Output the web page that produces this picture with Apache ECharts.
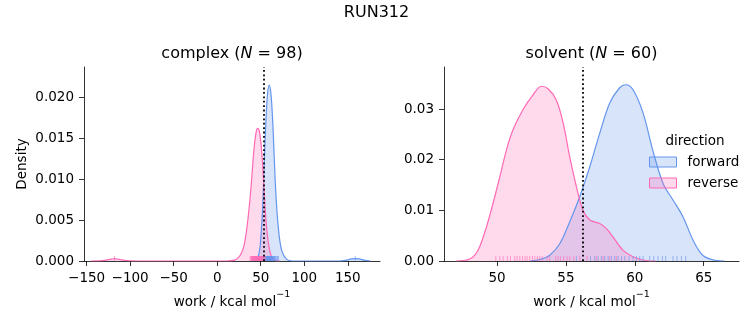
<!DOCTYPE html>
<html><head><meta charset="utf-8">
<script src="https://cdn.jsdelivr.net/npm/echarts@6/dist/echarts.min.js"></script>
<style>html,body{margin:0;padding:0;background:#fff}#c{width:753px;height:325px}</style>
</head><body><div id="c"></div>
<script>
const FONT = 'DejaVu Sans';
const colorForward = '#6495ED';
const colorReverse = '#FF69B4';

// axis ranges and ticks
const complexXRange = [-153, 187];
const complexYRange = [0, 0.0237];
const solventXRange = [46.15, 67.56];
const solventYRange = [0, 0.0383];
const complexXTicks = [-150, -100, -50, 0, 50, 100, 150];
const complexYTicks = [0, 0.005, 0.010, 0.015, 0.020];
const solventXTicks = [50, 55, 60, 65];
const solventYTicks = [0, 0.01, 0.02, 0.03];
const meanWork = [53.8, 56.22];

// KDE curves (work, density)
const complexForwardKde = [[40,0],[45,0.0002],[47.8,0.0008],[49.9,0.0025],[52.2,0.0066],[54,0.0119],[56,0.0172],[57.9,0.0205],[59.8,0.0215],[61.7,0.0205],[63.7,0.0172],[65.5,0.0127],[67.4,0.0082],[70.1,0.0042],[74,0.0013],[79.8,0.0002],[86,0],[140,0],[148,0.0001],[154,0.00025],[158.5,0.0003],[163,0.00025],[169,0.0001],[176,0]];
const complexReverseKde = [[-145,0],[-135,0.00002],[-128,0.0001],[-122,0.00022],[-118,0.00028],[-114,0.00022],[-108,0.0001],[-100,0.00002],[-90,0],[10,0],[20,0.0001],[25,0.0005],[28,0.001],[31,0.002],[33.8,0.0038],[36.8,0.0066],[39.5,0.0099],[42.2,0.0136],[44.5,0.0156],[46.4,0.0162],[48.5,0.0158],[51,0.0135],[53.7,0.0091],[56,0.005],[59,0.0021],[62.5,0.0005],[66,0.0001],[72,0]];
const solventForwardKde = [[52.4,0],[53.1,0.0003],[53.8,0.0011],[54.55,0.0034],[55.27,0.0077],[56.0,0.0127],[56.73,0.0186],[57.45,0.0252],[58.18,0.0312],[58.9,0.0342],[59.34,0.0348],[59.87,0.0338],[60.6,0.0292],[61.3,0.0219],[62.05,0.0153],[62.78,0.0120],[63.5,0.0087],[64.23,0.0041],[64.95,0.0011],[65.9,0.0001],[66.5,0]];
const solventReverseKde = [[47.0,0],[47.6,0.0001],[48.02,0.0004],[48.4,0.0012],[48.74,0.0028],[49.23,0.0067],[49.71,0.0114],[50.2,0.0166],[50.68,0.0219],[51.16,0.0259],[51.89,0.0299],[52.61,0.0328],[53.22,0.0345],[53.7,0.034],[54.3,0.0318],[54.8,0.0272],[55.27,0.0206],[55.76,0.0147],[56.24,0.0100],[56.73,0.0081],[57.45,0.0074],[57.94,0.0064],[58.4,0.0048],[59.15,0.0021],[59.9,0.0008],[60.8,0.0001],[61.5,0]];

// rug samples
const complexForwardRug = [52.5,53.3,54.0,54.6,55.2,55.6,56.0,56.4,56.8,57.2,57.5,57.8,58.1,58.4,58.7,59.0,59.3,59.6,59.8,60.1,60.4,60.7,61.0,61.3,61.6,62.0,62.3,62.7,63.0,63.4,63.8,64.2,64.7,65.2,65.8,66.5,67.2,68.3,69.5,70.2,158.5];
const complexReverseRug = [37.8,38.6,39.5,39.9,40.2,40.6,41.0,41.4,41.8,42.1,42.5,42.8,43.1,43.5,43.8,44.1,44.4,44.7,45.0,45.3,45.6,45.9,46.2,46.5,46.8,47.0,47.3,47.6,47.9,48.2,48.5,48.9,49.2,49.5,49.9,50.2,50.6,51.0,51.4,51.8,52.3,52.9,53.5,54.2,55.0,-118];
const solventForwardRug = [55.76,56.78,57.09,57.33,57.57,57.82,58.06,58.3,58.54,58.78,59.03,59.27,59.58,59.87,60.12,60.36,60.6,61.08,61.37,61.68,62.0,62.24,62.77,63.06,63.38,63.69];
const solventReverseRug = [49.91,50.2,50.44,50.75,50.97,51.28,51.45,51.65,51.84,52.03,52.18,52.37,52.57,52.74,52.93,53.1,53.29,53.63,53.82,54.26,54.43,54.6,54.84,55.08,55.28,55.57,56.0,56.53,57.21,57.7,58.18,58.66];

const minus = v => (v < 0 ? '\u2212' + Math.abs(v) : String(v));
const axisLineStyle = { color: '#000', width: 0.8 };
const labelStyle = { color: '#000', fontFamily: FONT, fontSize: 13.5 };

function xAx(gi, range, ticks) {
  return {
    type: 'value', gridIndex: gi, min: range[0], max: range[1],
    splitLine: { show: false },
    axisLine: { onZero: false, lineStyle: axisLineStyle },
    axisTick: { customValues: ticks, length: 5, lineStyle: axisLineStyle },
    axisLabel: Object.assign({ customValues: ticks, margin: 10, formatter: minus }, labelStyle),
    name: '{a|work / kcal mol}{s|\u22121}', nameLocation: 'middle', nameGap: 29,
    nameTextStyle: Object.assign({
      rich: {
        a: { fontFamily: FONT, fontSize: 13.5, color: '#000', padding: [5, 0, 0, 0] },
        s: { fontFamily: FONT, fontSize: 9.5, color: '#000', verticalAlign: 'top' }
      }
    }, labelStyle)
  };
}
function yAx(gi, range, ticks, dec, name) {
  return {
    type: 'value', gridIndex: gi, min: range[0], max: range[1],
    splitLine: { show: false },
    axisLine: { show: true, onZero: false, lineStyle: axisLineStyle },
    axisTick: { show: true, customValues: ticks, length: 5, lineStyle: axisLineStyle },
    axisLabel: Object.assign({ customValues: ticks, margin: 10, formatter: v => v.toFixed(dec) }, labelStyle),
    name: name || '', nameLocation: 'middle', nameGap: 55, nameRotate: 90,
    nameTextStyle: Object.assign({}, labelStyle)
  };
}
function kde(name, gi, data, color, extra) {
  return Object.assign({
    type: 'line', name, xAxisIndex: gi, yAxisIndex: gi, data,
    smooth: 0.35, showSymbol: false, symbol: 'none', silent: true,
    lineStyle: { color, width: 1.2 }, itemStyle: { color },
    areaStyle: { color, opacity: 0.25 }, z: 2
  }, extra || {});
}
function rug(name, gi, vals, color) {
  return {
    type: 'scatter', name, xAxisIndex: gi, yAxisIndex: gi,
    data: vals.map(v => [v, 0]), symbol: 'rect', symbolSize: [1, 5],
    symbolOffset: [0, -2.5], clip: false, silent: true,
    itemStyle: { color, opacity: 0.6 }, z: 3
  };
}
function vline(v) {
  return {
    symbol: 'none', silent: true, label: { show: false },
    lineStyle: { color: '#000', type: [1.8, 2.6], width: 1.8 },
    data: [{ xAxis: v }]
  };
}

const chart = echarts.init(document.getElementById('c'), null, { renderer: 'canvas' });
chart.setOption({
  animation: false,
  backgroundColor: '#fff',
  grid: [
    { left: 84, right: 373, top: 67, bottom: 64, outerBoundsMode: 'none', containLabel: false },
    { left: 444, right: 14, top: 67, bottom: 64, outerBoundsMode: 'none', containLabel: false }
  ],
  xAxis: [xAx(0, complexXRange, complexXTicks), xAx(1, solventXRange, solventXTicks)],
  yAxis: [yAx(0, complexYRange, complexYTicks, 3, 'Density'), yAx(1, solventYRange, solventYTicks, 2)],
  graphic: [
    { type: 'text', x: 376.5, y: 13, style: { text: 'RUN312', fontFamily: FONT, fontSize: 16, fill: '#000', align: 'center', verticalAlign: 'middle' } },
    { type: 'text', x: 232, y: 54, style: { text: '{a|complex (}{i|N}{a| = 98)}', align: 'center', verticalAlign: 'middle', fill: '#000',
      rich: { a: { fontFamily: FONT, fontSize: 16, color: '#000' }, i: { fontFamily: FONT, fontSize: 16, fontStyle: 'italic', color: '#000' } } } },
    { type: 'text', x: 591.5, y: 54, style: { text: '{a|solvent (}{i|N}{a| = 60)}', align: 'center', verticalAlign: 'middle', fill: '#000',
      rich: { a: { fontFamily: FONT, fontSize: 16, color: '#000' }, i: { fontFamily: FONT, fontSize: 16, fontStyle: 'italic', color: '#000' } } } },
    { type: 'text', x: 695, y: 141, style: { text: 'direction', fontFamily: FONT, fontSize: 13.5, fill: '#000', align: 'center', verticalAlign: 'middle' } }
  ],
  legend: {
    data: [
      { name: 'forward', icon: 'rect', itemStyle: { color: 'rgba(100,149,237,0.25)', borderColor: colorForward, borderWidth: 1 } },
      { name: 'reverse', icon: 'rect', itemStyle: { color: 'rgba(255,105,180,0.25)', borderColor: colorReverse, borderWidth: 1 } }
    ],
    orient: 'vertical', left: 649, top: 155, padding: 0, itemWidth: 27, itemHeight: 10, itemGap: 7,
    selectedMode: false,
    formatter: name => '{g|}' + name,
    textStyle: { fontFamily: FONT, fontSize: 13.5, color: '#000', rich: { g: { width: 6 } } }
  },
  series: [
    kde('forward', 0, complexForwardKde, colorForward, { markLine: vline(meanWork[0]) }),
    kde('reverse', 0, complexReverseKde, colorReverse),
    kde('forward', 1, solventForwardKde, colorForward, { markLine: vline(meanWork[1]) }),
    kde('reverse', 1, solventReverseKde, colorReverse),
    rug('rugF0', 0, complexForwardRug, colorForward),
    rug('rugR0', 0, complexReverseRug, colorReverse),
    rug('rugF1', 1, solventForwardRug, colorForward),
    rug('rugR1', 1, solventReverseRug, colorReverse)
  ]
});
</script></body></html>
